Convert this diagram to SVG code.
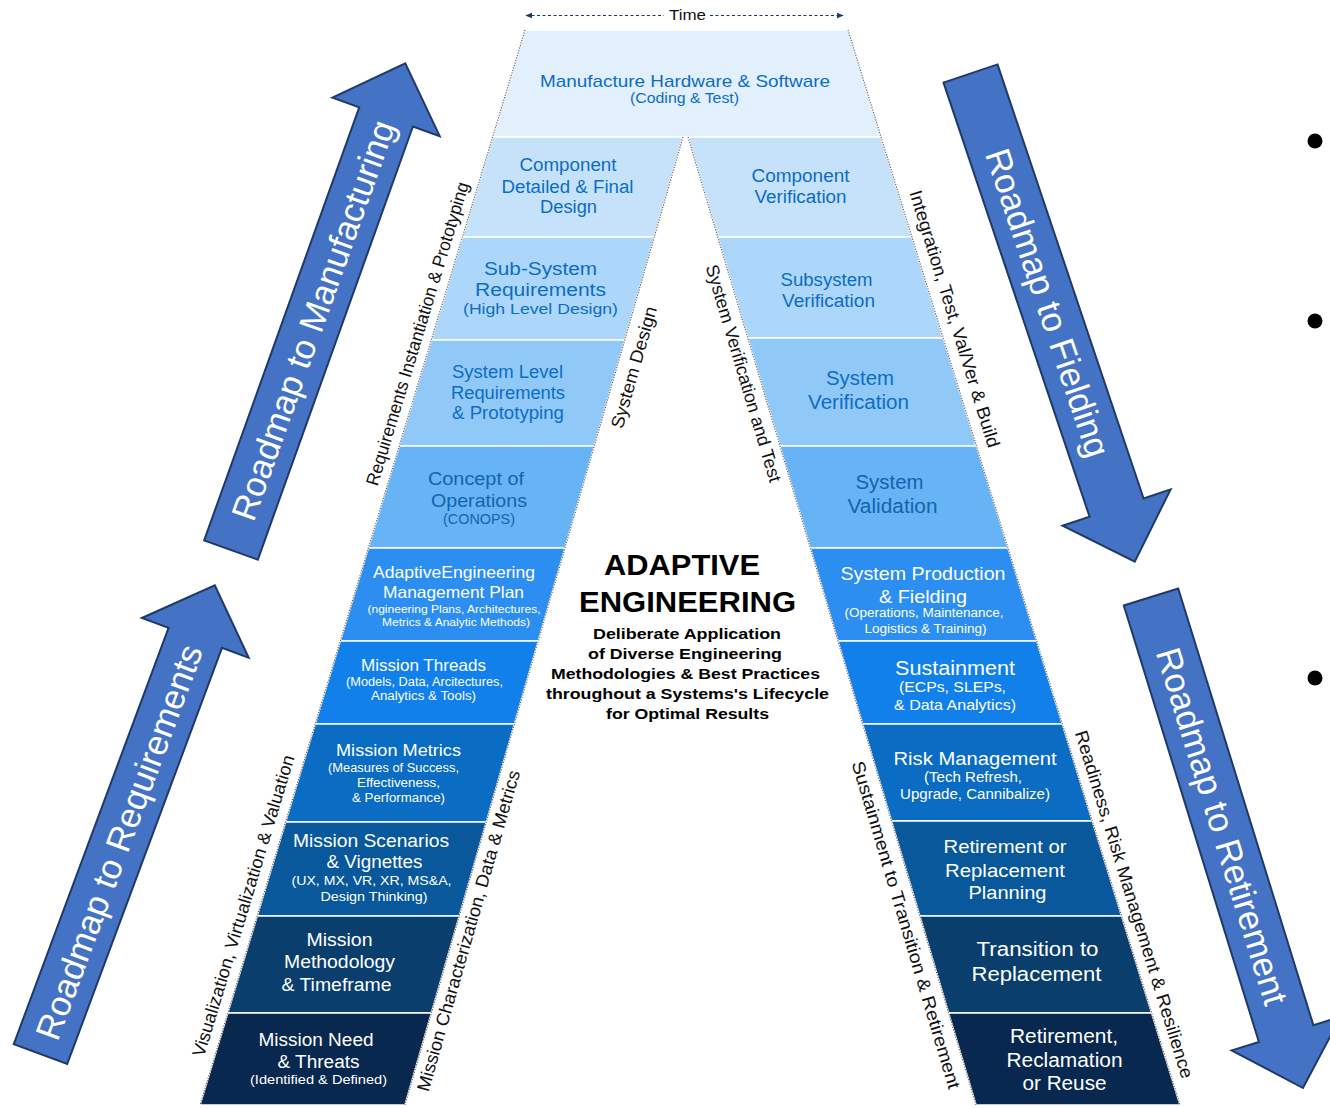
<svg xmlns="http://www.w3.org/2000/svg" width="1330" height="1108" viewBox="0 0 1330 1108">
<style>
text{font-family:"Liberation Sans",Arial,Helvetica,sans-serif;text-anchor:middle}
.band{stroke:#ffffff;stroke-width:1.6}
.lt{fill:#0c6dc4}
.lt2{fill:#1463ad}
.wt{fill:#ffffff}
.side{font-size:18px;fill:#111111}
.edge{stroke:#5a5a5a;stroke-width:1.1;stroke-dasharray:1.2 1.4;fill:none}
.big{fill:#4472c4;stroke:#1f3a66;stroke-width:2;stroke-linejoin:miter}
.bigtxt{font-size:35px;fill:#ffffff}
.ctr{font-weight:bold;fill:#000000}
.bullet{fill:#000000}
</style>
<defs>
<marker id="tri" viewBox="0 0 10 10" refX="9" refY="5" markerWidth="7" markerHeight="7" orient="auto-start-reverse" markerUnits="userSpaceOnUse">
<path d="M0,1 L10,5 L0,9 Z" fill="#1f3864"/>
</marker>
</defs>
<rect width="1330" height="1108" fill="#ffffff"/>

<g id="connectors">
<g id="time-axis">
<line x1="526" y1="15.5" x2="664" y2="15.5" stroke="#1f3864" stroke-width="1.2" stroke-dasharray="3 2.5" marker-start="url(#tri)"/>
<line x1="710" y1="15.5" x2="843" y2="15.5" stroke="#1f3864" stroke-width="1.2" stroke-dasharray="3 2.5" marker-end="url(#tri)"/>
<text x="687.5" y="20" font-size="15" fill="#111111" textLength="37" lengthAdjust="spacingAndGlyphs">Time</text>
</g>
<g id="arrow-manufacturing" transform="translate(231,550) rotate(-70.3)">
<path class="big" d="M0,-28.5 H460 V-57 L517,0 L460,57 V28.5 H0 Z"/>
<text class="bigtxt" x="244" y="12">Roadmap to Manufacturing</text>
</g>
<g id="arrow-requirements" transform="translate(40.5,1054) rotate(-69.6)">
<path class="big" d="M0,-28.5 H444 V-57 L500,0 L444,57 V28.5 H0 Z"/>
<text class="bigtxt" x="226" y="12">Roadmap to Requirements</text>
</g>
<g id="arrow-fielding" transform="translate(970.5,73.5) rotate(71.4)">
<path class="big" d="M0,-28.5 H458 V-57 L515,0 L458,57 V28.5 H0 Z"/>
<text class="bigtxt" x="242" y="12">Roadmap to Fielding</text>
</g>
<g id="arrow-retirement" transform="translate(1151,597) rotate(72.8)">
<path class="big" d="M0,-28.5 H457 V-57 L514,0 L457,57 V28.5 H0 Z"/>
<text class="bigtxt" x="240" y="12">Roadmap to Retirement</text>
</g>
</g>

<g id="n-manufacture">
<polygon class="band" fill="#e2f0fd" points="525,30 848,30 881,137 492.7,137"/>
<text class="lt" x="685" y="87" font-size="17" textLength="290" lengthAdjust="spacingAndGlyphs">Manufacture Hardware &amp; Software</text>
<text class="lt" x="684.5" y="103" font-size="14" textLength="109" lengthAdjust="spacingAndGlyphs">(Coding &amp; Test)</text>
</g>

<g id="n-component-design">
<polygon class="band" fill="#c6e2fb" points="492.7,137 683,137 654.3,237 462.4,237"/>
<text class="lt" x="568" y="171" font-size="18" textLength="97" lengthAdjust="spacingAndGlyphs">Component</text>
<text class="lt" x="567.5" y="193" font-size="18" textLength="132" lengthAdjust="spacingAndGlyphs">Detailed &amp; Final</text>
<text class="lt" x="568.5" y="213" font-size="18" textLength="57" lengthAdjust="spacingAndGlyphs">Design</text>
</g>
<g id="n-subsystem-req">
<polygon class="band" fill="#acd6fa" points="462.4,237 654.3,237 624.7,340 431.3,340"/>
<text class="lt" x="540.5" y="275" font-size="18" textLength="113" lengthAdjust="spacingAndGlyphs">Sub-System</text>
<text class="lt" x="540.5" y="296" font-size="18" textLength="131" lengthAdjust="spacingAndGlyphs">Requirements</text>
<text class="lt" x="540.5" y="314" font-size="15.5" textLength="155" lengthAdjust="spacingAndGlyphs">(High Level Design)</text>
</g>
<g id="n-system-level">
<polygon class="band" fill="#90c8f8" points="431.3,340 624.7,340 594.3,446 399.2,446"/>
<text class="lt" x="507.5" y="378" font-size="18" textLength="111" lengthAdjust="spacingAndGlyphs">System Level</text>
<text class="lt" x="508" y="399" font-size="18" textLength="114" lengthAdjust="spacingAndGlyphs">Requirements</text>
<text class="lt" x="508" y="419" font-size="18" textLength="112" lengthAdjust="spacingAndGlyphs">&amp; Prototyping</text>
</g>
<g id="n-conops">
<polygon class="band" fill="#66b3f6" points="399.2,446 594.3,446 565,548 368.4,548"/>
<text class="lt2" x="476" y="485" font-size="18.5" textLength="96" lengthAdjust="spacingAndGlyphs">Concept of</text>
<text class="lt2" x="479" y="507" font-size="18.5" textLength="96" lengthAdjust="spacingAndGlyphs">Operations</text>
<text class="lt2" x="479" y="524" font-size="14" textLength="72" lengthAdjust="spacingAndGlyphs">(CONOPS)</text>
</g>
<g id="n-aemp">
<polygon class="band" fill="#2b8ef0" points="368.4,548 565,548 538.3,641 340.3,641"/>
<text class="wt" x="454" y="578" font-size="16.5" textLength="162" lengthAdjust="spacingAndGlyphs">AdaptiveEngineering</text>
<text class="wt" x="453.5" y="598" font-size="16.5" textLength="141" lengthAdjust="spacingAndGlyphs">Management Plan</text>
<text class="wt" x="454" y="612.5" font-size="11.5" textLength="173" lengthAdjust="spacingAndGlyphs">(ngineering Plans, Architectures,</text>
<text class="wt" x="456" y="626" font-size="11.5" textLength="148" lengthAdjust="spacingAndGlyphs">Metrics &amp; Analytic Methods)</text>
</g>
<g id="n-mission-threads">
<polygon class="band" fill="#1180ea" points="340.3,641 538.3,641 514.4,724 315.2,724"/>
<text class="wt" x="423.5" y="671" font-size="16.5" textLength="125" lengthAdjust="spacingAndGlyphs">Mission Threads</text>
<text class="wt" x="424.5" y="685.5" font-size="12" textLength="157" lengthAdjust="spacingAndGlyphs">(Models, Data, Arcitectures,</text>
<text class="wt" x="423.5" y="699.5" font-size="12" textLength="105" lengthAdjust="spacingAndGlyphs">Analytics &amp; Tools)</text>
</g>
<g id="n-mission-metrics">
<polygon class="band" fill="#0a6cc3" points="315.2,724 514.4,724 486.3,822 285.6,822"/>
<text class="wt" x="398.5" y="756" font-size="16.5" textLength="125" lengthAdjust="spacingAndGlyphs">Mission Metrics</text>
<text class="wt" x="393.5" y="772" font-size="12.5" textLength="131" lengthAdjust="spacingAndGlyphs">(Measures of Success,</text>
<text class="wt" x="398.5" y="787" font-size="12.5" textLength="83" lengthAdjust="spacingAndGlyphs">Effectiveness,</text>
<text class="wt" x="398.5" y="802" font-size="12.5" textLength="93" lengthAdjust="spacingAndGlyphs">&amp; Performance)</text>
</g>
<g id="n-mission-scenarios">
<polygon class="band" fill="#09589b" points="285.6,822 486.3,822 459.3,916 257.2,916"/>
<text class="wt" x="371" y="846.5" font-size="17.5" textLength="156" lengthAdjust="spacingAndGlyphs">Mission Scenarios</text>
<text class="wt" x="374.5" y="868" font-size="17.5" textLength="96" lengthAdjust="spacingAndGlyphs">&amp; Vignettes</text>
<text class="wt" x="371.5" y="885" font-size="13" textLength="160" lengthAdjust="spacingAndGlyphs">(UX, MX, VR, XR, MS&amp;A,</text>
<text class="wt" x="374" y="900.5" font-size="13" textLength="107" lengthAdjust="spacingAndGlyphs">Design Thinking)</text>
</g>
<g id="n-mission-methodology">
<polygon class="band" fill="#0a3e6d" points="257.2,916 459.3,916 431.4,1013 227.8,1013"/>
<text class="wt" x="339.5" y="946" font-size="18" textLength="66" lengthAdjust="spacingAndGlyphs">Mission</text>
<text class="wt" x="339.5" y="968" font-size="18" textLength="111" lengthAdjust="spacingAndGlyphs">Methodology</text>
<text class="wt" x="336.5" y="990.5" font-size="18" textLength="110" lengthAdjust="spacingAndGlyphs">&amp; Timeframe</text>
</g>
<g id="n-mission-need">
<polygon class="band" fill="#08284f" points="227.8,1013 431.4,1013 405,1105 200,1105"/>
<text class="wt" x="316" y="1045.5" font-size="18" textLength="115" lengthAdjust="spacingAndGlyphs">Mission Need</text>
<text class="wt" x="318.5" y="1067.5" font-size="18" textLength="82" lengthAdjust="spacingAndGlyphs">&amp; Threats</text>
<text class="wt" x="318.5" y="1084" font-size="13" textLength="137" lengthAdjust="spacingAndGlyphs">(Identified &amp; Defined)</text>
</g>

<g id="n-component-verification">
<polygon class="band" fill="#c6e2fb" points="688,137 881,137 911.9,237 717.8,237"/>
<text class="lt" x="800.5" y="181.5" font-size="18" textLength="98" lengthAdjust="spacingAndGlyphs">Component</text>
<text class="lt" x="800.5" y="202.5" font-size="18" textLength="92" lengthAdjust="spacingAndGlyphs">Verification</text>
</g>
<g id="n-subsystem-verification">
<polygon class="band" fill="#acd6fa" points="717.8,237 911.9,237 943.1,338 747.8,338"/>
<text class="lt" x="826.5" y="286" font-size="18" textLength="92" lengthAdjust="spacingAndGlyphs">Subsystem</text>
<text class="lt" x="828.5" y="307" font-size="18" textLength="93" lengthAdjust="spacingAndGlyphs">Verification</text>
</g>
<g id="n-system-verification">
<polygon class="band" fill="#90c8f8" points="747.8,338 943.1,338 976.5,446 779.9,446"/>
<text class="lt" x="860" y="385" font-size="19.5" textLength="68" lengthAdjust="spacingAndGlyphs">System</text>
<text class="lt" x="858.5" y="409" font-size="19.5" textLength="101" lengthAdjust="spacingAndGlyphs">Verification</text>
</g>
<g id="n-system-validation">
<polygon class="band" fill="#66b3f6" points="779.9,446 976.5,446 1008,548 810.3,548"/>
<text class="lt2" x="889.5" y="489" font-size="19.5" textLength="68" lengthAdjust="spacingAndGlyphs">System</text>
<text class="lt2" x="892.5" y="513" font-size="19.5" textLength="90" lengthAdjust="spacingAndGlyphs">Validation</text>
</g>
<g id="n-system-production">
<polygon class="band" fill="#2b8ef0" points="810.3,548 1008,548 1036.7,641 837.9,641"/>
<text class="wt" x="923" y="580" font-size="18.5" textLength="165" lengthAdjust="spacingAndGlyphs">System Production</text>
<text class="wt" x="923" y="602.5" font-size="18.5" textLength="88" lengthAdjust="spacingAndGlyphs">&amp; Fielding</text>
<text class="wt" x="924" y="617" font-size="12.5" textLength="159" lengthAdjust="spacingAndGlyphs">(Operations, Maintenance,</text>
<text class="wt" x="925.5" y="632.5" font-size="12.5" textLength="122" lengthAdjust="spacingAndGlyphs">Logistics &amp; Training)</text>
</g>
<g id="n-sustainment">
<polygon class="band" fill="#1180ea" points="837.9,641 1036.7,641 1062.3,724 862.6,724"/>
<text class="wt" x="955" y="674.5" font-size="19.5" textLength="120" lengthAdjust="spacingAndGlyphs">Sustainment</text>
<text class="wt" x="952.5" y="692" font-size="14.5" textLength="107" lengthAdjust="spacingAndGlyphs">(ECPs, SLEPs,</text>
<text class="wt" x="955" y="710" font-size="14.5" textLength="122" lengthAdjust="spacingAndGlyphs">&amp; Data Analytics)</text>
</g>
<g id="n-risk-management">
<polygon class="band" fill="#0a6cc3" points="862.6,724 1062.3,724 1092.3,821 891.5,821"/>
<text class="wt" x="975" y="765" font-size="19" textLength="163" lengthAdjust="spacingAndGlyphs">Risk Management</text>
<text class="wt" x="973" y="782" font-size="14" textLength="98" lengthAdjust="spacingAndGlyphs">(Tech Refresh,</text>
<text class="wt" x="975" y="798.5" font-size="14" textLength="150" lengthAdjust="spacingAndGlyphs">Upgrade, Cannibalize)</text>
</g>
<g id="n-retirement-planning">
<polygon class="band" fill="#09589b" points="891.5,821 1092.3,821 1121.6,916 919.8,916"/>
<text class="wt" x="1005" y="853" font-size="19" textLength="123" lengthAdjust="spacingAndGlyphs">Retirement or</text>
<text class="wt" x="1005" y="876.5" font-size="19" textLength="120" lengthAdjust="spacingAndGlyphs">Replacement</text>
<text class="wt" x="1007.5" y="899" font-size="19" textLength="78" lengthAdjust="spacingAndGlyphs">Planning</text>
</g>
<g id="n-transition">
<polygon class="band" fill="#0a3e6d" points="919.8,916 1121.6,916 1151.6,1013 948.6,1013"/>
<text class="wt" x="1037.5" y="956" font-size="19.5" textLength="122" lengthAdjust="spacingAndGlyphs">Transition to</text>
<text class="wt" x="1036.5" y="981" font-size="19.5" textLength="130" lengthAdjust="spacingAndGlyphs">Replacement</text>
</g>
<g id="n-retirement">
<polygon class="band" fill="#08284f" points="948.6,1013 1151.6,1013 1180,1105 976,1105"/>
<text class="wt" x="1064" y="1042.5" font-size="19.5" textLength="108" lengthAdjust="spacingAndGlyphs">Retirement,</text>
<text class="wt" x="1064.5" y="1067" font-size="19.5" textLength="116" lengthAdjust="spacingAndGlyphs">Reclamation</text>
<text class="wt" x="1064.5" y="1090" font-size="19.5" textLength="84" lengthAdjust="spacingAndGlyphs">or Reuse</text>
</g>

<g id="edges">
<line class="edge" x1="525" y1="30" x2="200" y2="1105"/>
<line class="edge" x1="683" y1="137" x2="405" y2="1105"/>
<line class="edge" x1="688" y1="137" x2="976" y2="1105"/>
<line class="edge" x1="848" y1="30" x2="1180" y2="1105"/>
</g>

<g id="edge-labels">
<text class="side" transform="translate(418,334) rotate(-73.18)" y="5.5" textLength="316" lengthAdjust="spacingAndGlyphs">Requirements Instantiation &amp; Prototyping</text>
<text class="side" transform="translate(634.5,367.5) rotate(-74)" y="5.5" textLength="126" lengthAdjust="spacingAndGlyphs">System Design</text>
<text class="side" transform="translate(743,373.5) rotate(73.43)" y="5.5" textLength="226" lengthAdjust="spacingAndGlyphs">System Verification and Test</text>
<text class="side" transform="translate(954,319) rotate(72.84)" y="5.5" textLength="268" lengthAdjust="spacingAndGlyphs">Integration, Test, Val/Ver &amp; Build</text>
<text class="side" transform="translate(244,906) rotate(-73.18)" y="5.5" textLength="314" lengthAdjust="spacingAndGlyphs">Visualization, Virtualization &amp; Valuation</text>
<text class="side" transform="translate(469,931) rotate(-74)" y="5.5" textLength="333" lengthAdjust="spacingAndGlyphs">Mission Characterization, Data &amp; Metrics</text>
<text class="side" transform="translate(905.5,925) rotate(73.43)" y="5.5" textLength="341" lengthAdjust="spacingAndGlyphs">Sustainment to Transition &amp; Retirement</text>
<text class="side" transform="translate(1133.5,904.5) rotate(72.84)" y="5.5" textLength="363" lengthAdjust="spacingAndGlyphs">Readiness, Risk Management &amp; Resilience</text>
</g>

<g id="n-title">
<text class="ctr" x="682" y="575" font-size="29" textLength="156" lengthAdjust="spacingAndGlyphs">ADAPTIVE</text>
<text class="ctr" x="687.5" y="612" font-size="29" textLength="217" lengthAdjust="spacingAndGlyphs">ENGINEERING</text>
<text class="ctr" x="687" y="639" font-size="14.5" textLength="188" lengthAdjust="spacingAndGlyphs">Deliberate Application</text>
<text class="ctr" x="685" y="659" font-size="14.5" textLength="194" lengthAdjust="spacingAndGlyphs">of Diverse Engineering</text>
<text class="ctr" x="685.5" y="679" font-size="14.5" textLength="269" lengthAdjust="spacingAndGlyphs">Methodologies &amp; Best Practices</text>
<text class="ctr" x="687.5" y="699" font-size="14.5" textLength="283" lengthAdjust="spacingAndGlyphs">throughout a Systems's Lifecycle</text>
<text class="ctr" x="687.5" y="719" font-size="14.5" textLength="163" lengthAdjust="spacingAndGlyphs">for Optimal Results</text>
</g>

<g id="bullets">
<circle class="bullet" cx="1315" cy="141" r="7.5"/>
<circle class="bullet" cx="1315" cy="321" r="7.5"/>
<circle class="bullet" cx="1315" cy="678" r="7.5"/>
</g>
</svg>
